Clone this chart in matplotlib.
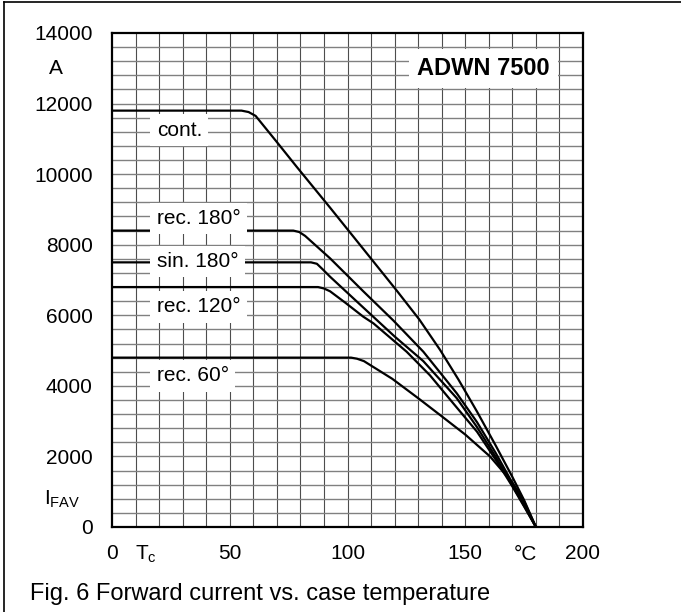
import matplotlib
matplotlib.use("Agg")
import matplotlib.pyplot as plt
from matplotlib.lines import Line2D
import matplotlib.transforms as mtransforms
import numpy as np

plt.rcParams["font.family"] = ["Liberation Sans", "DejaVu Sans"]
plt.rcParams["mathtext.default"] = "regular"

# curves (Tc in degC, IFAV in A)
cont_x = [0, 55, 58, 61, 70, 78.4, 92.6, 106.7, 120.9, 130.5, 139.3, 147.1, 155, 163, 170, 175, 180]
cont_y = [11800, 11800, 11760, 11650, 10910, 10210, 9050, 7880, 6700, 5880, 5020, 4180, 3270, 2300, 1420, 760, 0]

rec180_x = [0, 77, 79.5, 82, 92.6, 106.7, 119.5, 132.2, 146.4, 155, 163, 170, 175, 180]
rec180_y = [8400, 8400, 8360, 8250, 7614, 6680, 5850, 4968, 3788, 2971, 2090, 1250, 625, 0]

sin180_x = [0, 84.5, 87, 89.5, 92.6, 106.7, 120, 132.2, 146.4, 155, 163, 170, 175, 180]
sin180_y = [7500, 7500, 7460, 7300, 7093, 6220, 5400, 4700, 3650, 2830, 1980, 1180, 600, 0]

rec120_x = [0, 87.5, 90, 92.6, 99, 106.7, 111, 125.1, 135, 144.9, 155, 163, 170, 175, 180]
rec120_y = [6800, 6800, 6760, 6680, 6360, 5960, 5772, 4968, 4300, 3505, 2700, 1900, 1150, 580, 0]

rec60_x = [0, 101.5, 104, 107, 119, 130.1, 139.3, 150, 160.5, 170, 174.7, 180]
rec60_y = [4800, 4800, 4770, 4700, 4200, 3646, 3174, 2620, 2000, 1260, 765, 0]

curve_labels = ["cont.", "rec. 180°", "sin. 180°", "rec. 120°", "rec. 60°"]
label_y = [11250, 8750, 7520, 6240, 4280]

x_ticks = [0, 50, 100, 150, 200]
y_ticks = [0, 2000, 4000, 6000, 8000, 10000, 12000, 14000]

fig = plt.figure(figsize=(6.81, 6.12), dpi=100)
ax = fig.add_axes([112 / 681, 85 / 612, 471 / 681, 494 / 612])

ax.set_xlim(0, 200)
ax.set_ylim(0, 14000)

# millimetre-paper style grid
for gx in np.arange(10, 200, 10):
    ax.axvline(gx, color="0.3", lw=0.8, zorder=1)
for gy in np.arange(400, 14000, 400):
    ax.axhline(gy, color="0.5", lw=1.0, zorder=1)

for xs, ys in [(cont_x, cont_y), (rec180_x, rec180_y), (sin180_x, sin180_y),
               (rec120_x, rec120_y), (rec60_x, rec60_y)]:
    ax.plot(xs, ys, color="black", lw=1.6, zorder=3, solid_joinstyle="round")

box = dict(facecolor="white", edgecolor="none", boxstyle="square,pad=0.3")
for txt, ty in zip(curve_labels, label_y):
    ax.text(19, ty, txt, fontsize=15, ha="left", va="center", bbox=box, zorder=4)

ax.text(157.8, 13000, "ADWN 7500", fontsize=17, fontweight="bold",
        ha="center", va="center", zorder=4,
        bbox=dict(facecolor="white", edgecolor="none", boxstyle="square,pad=0.35"))

ax.set_xticks(x_ticks)
ax.set_xticklabels([str(v) for v in x_ticks])
ax.set_yticks(y_ticks)
ax.set_yticklabels([str(v) for v in y_ticks])
ax.tick_params(axis="both", length=0, labelsize=15)
ax.tick_params(axis="y", pad=14)
ax.tick_params(axis="x", pad=12)

for sp in ax.spines.values():
    sp.set_linewidth(1.6)
    sp.set_zorder(5)

# unit / symbol labels next to the axes
ty = mtransforms.blended_transform_factory(ax.transAxes, ax.transData)
ax.text(-0.119, 13000, "A", fontsize=15, ha="center", va="center", transform=ty)
ax.text(-0.144, 620, "$I_{FAV}$", fontsize=15, ha="left", va="baseline", transform=ty)
tx = mtransforms.blended_transform_factory(ax.transData, ax.transAxes)
ax.text(9.8, -0.067, "$T_c$", fontsize=15, ha="left", va="baseline", transform=tx)
ax.text(175.4, -0.067, "°C", fontsize=15, ha="center", va="baseline", transform=tx)

fig.text(30 / 681, 12 / 612, "Fig. 6 Forward current vs. case temperature",
         fontsize=17, ha="left", va="baseline")

# frame lines of the original figure box
fig.add_artist(Line2D([3.5 / 681, 3.5 / 681], [0, 1 - 1.5 / 612], color="black", lw=1.2,
                      transform=fig.transFigure))
fig.add_artist(Line2D([3.5 / 681, 1], [1 - 1.5 / 612, 1 - 1.5 / 612], color="black", lw=1.2,
                      transform=fig.transFigure))

fig.savefig("out.png", dpi=100)
